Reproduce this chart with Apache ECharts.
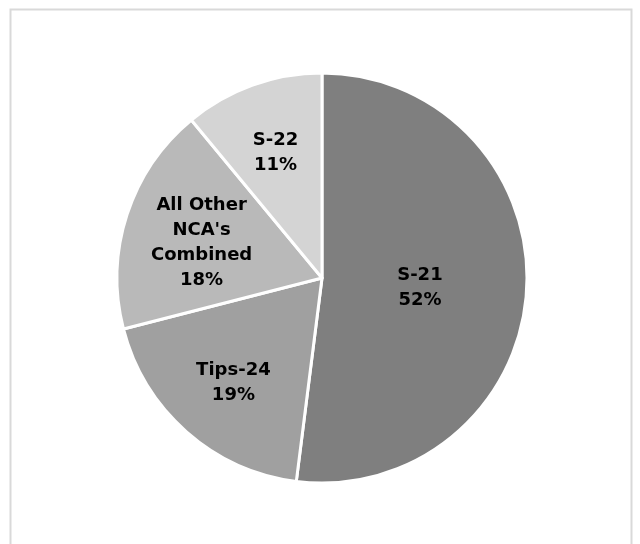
<!DOCTYPE html>
<html>
<head>
<meta charset="utf-8">
<script src="https://cdn.jsdelivr.net/npm/echarts@6/dist/echarts.min.js"></script>
<style>
  html, body { margin: 0; padding: 0; background: #fff; }
  #main { width: 640px; height: 544px; }
</style>
</head>
<body>
<div id="main"></div>
<script>
// data, clockwise from 12 o'clock
var categories = ["S-21", "Tips-24", "All Other\nNCA's\nCombined", "S-22"];
var shares = [52, 19, 18, 11];

// grey shades per slice
var colors = ["#7f7f7f", "#a0a0a0", "#b9b9b9", "#d4d4d4"];
// how far each label is pushed out from the middle (Excel best fit look)
var labelPush = [0.93, 1.27, 1.2, 1.3];

var myChart = echarts.init(document.getElementById("main"));

var cx = 322, cy = 278;

var pieData = categories.map(function (name, i) {
    return { name: name, value: shares[i], itemStyle: { color: colors[i] } };
});

var option = {
    backgroundColor: "#fff",
    animation: false,
    // outer chart frame
    graphic: [{
        type: "rect",
        shape: { x: 10.5, y: 9.5, width: 621, height: 560 },
        style: { fill: "none", stroke: "#d9d9d9", lineWidth: 2 },
        silent: true
    }],
    series: [{
        type: "pie",
        center: [cx, cy],
        radius: 205,
        startAngle: 90,
        clockwise: true,
        avoidLabelOverlap: false,
        itemStyle: {
            borderColor: "#fff",
            borderWidth: 3
        },
        label: {
            show: true,
            position: "inside",
            formatter: function (p) {
                return p.name + "\n" + p.value + "%";
            },
            color: "#000",
            fontFamily: "DejaVu Sans",
            fontWeight: "bold",
            fontSize: 18,
            lineHeight: 25
        },
        labelLine: { show: false },
        labelLayout: function (p) {
            var r = p.labelRect;
            var lx = r.x + r.width / 2, ly = r.y + r.height / 2;
            var k = labelPush[p.dataIndex];
            return {
                x: cx + (lx - cx) * k,
                y: cy + (ly - cy) * k + 4,
                align: "center",
                verticalAlign: "middle"
            };
        },
        data: pieData
    }]
};

myChart.setOption(option);
</script>
</body>
</html>
